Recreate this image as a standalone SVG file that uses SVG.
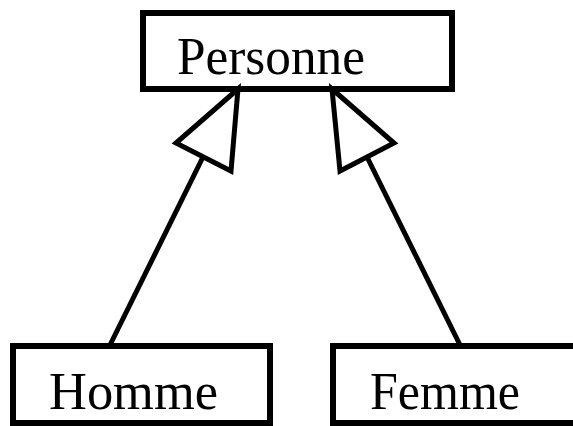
<svg xmlns="http://www.w3.org/2000/svg" width="573" height="426" viewBox="0 0 573 426">
<style>
.box{fill:#fff;stroke:#000;stroke-width:6}
.lbl{font-family:"Liberation Serif","Times New Roman",serif;font-size:52px;fill:#000}
.edge{stroke:#000;stroke-width:5;fill:none}
.head{fill:#fff;stroke:#000;stroke-width:5;stroke-linejoin:miter}
</style>
<rect width="573" height="426" fill="#fff"/>
<g id="personne">
<rect class="box" x="143" y="13" width="309" height="76"/>
<text class="lbl" x="177" y="74" textLength="188" lengthAdjust="spacingAndGlyphs">Personne</text>
</g>
<g id="homme">
<rect class="box" x="13" y="346" width="257" height="77"/>
<text class="lbl" x="49" y="409" textLength="169" lengthAdjust="spacingAndGlyphs">Homme</text>
</g>
<g id="femme">
<rect class="box" x="333" y="346" width="250" height="77"/>
<text class="lbl" x="370" y="409" textLength="150" lengthAdjust="spacingAndGlyphs">Femme</text>
</g>
<g id="connectors">
<line class="edge" x1="110" y1="345" x2="203" y2="157"/>
<polygon class="head" points="238,89 176,143 231,171"/>
<line class="edge" x1="460" y1="345" x2="367" y2="157"/>
<polygon class="head" points="332,89 394,143 340,171"/>
</g>
</svg>
